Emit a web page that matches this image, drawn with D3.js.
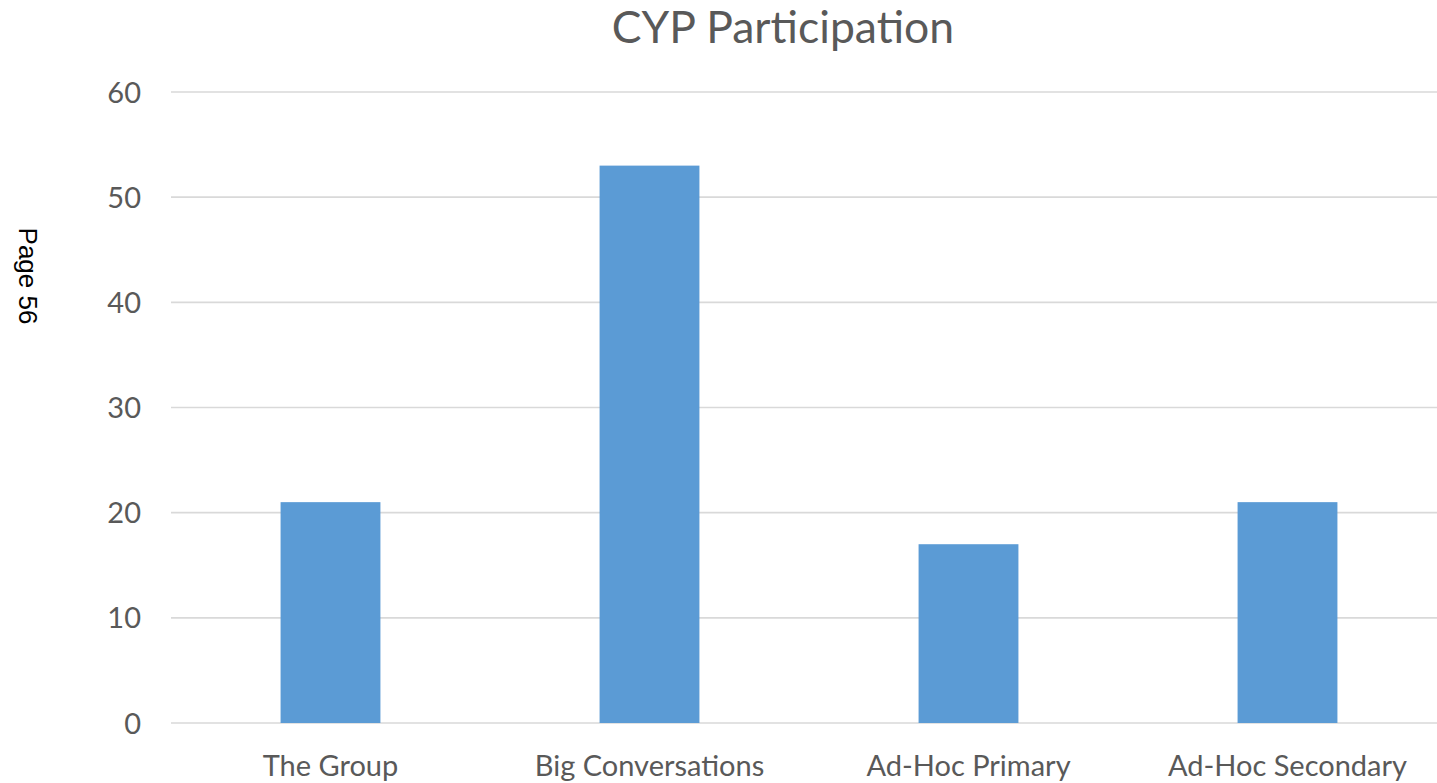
<!DOCTYPE html>
<html>
<head>
<meta charset="utf-8">
<script src="https://cdn.jsdelivr.net/npm/d3@7"></script>
<style>
  body { margin: 0; background: #fff; }
  text { font-family: Lato, "Open Sans", sans-serif; fill: #595959; }
</style>
</head>
<body>
<div id="chart"></div>
<script>
// chart data
const categories = ["The Group", "Big Conversations", "Ad-Hoc Primary", "Ad-Hoc Secondary"]
const values = [21, 53, 17, 21]
const yTicks = [0, 10, 20, 30, 40, 50, 60]

const svgWidth = 1437
const svgHeight = 783

// plot area runs a bit past the right edge, like the source crop
let margin = { top: 92, left: 171 }
let plotRight = 1447
let plotBottom = 723

let svg = d3.select("#chart")
  .append("svg")
  .attr("width", svgWidth)
  .attr("height", svgHeight)

let x = d3.scaleBand()
  .domain(categories)
  .range([margin.left, plotRight])
  .paddingInner(0.687)
  .paddingOuter(0.3435)

let y = d3.scaleLinear()
  .domain([0, 60])
  .range([plotBottom, margin.top])

// gridlines
svg.append("g")
  .selectAll("line")
  .data(yTicks)
  .enter()
  .append("line")
  .attr("x1", margin.left)
  .attr("x2", plotRight)
  .attr("y1", d => y(d))
  .attr("y2", d => y(d))
  .attr("stroke", "#d9d9d9")
  .attr("stroke-width", 1.6)

// bars
svg.append("g")
  .selectAll("rect")
  .data(values)
  .enter()
  .append("rect")
  .attr("x", (d, i) => x(categories[i]))
  .attr("width", x.bandwidth())
  .attr("y", d => y(d))
  .attr("height", d => y(0) - y(d))
  .attr("fill", "#5b9bd5")

// y axis labels
let leftAxis = d3.axisLeft(y).tickValues(yTicks).tickSize(0).tickPadding(0)
let yAxis = svg.append("g")
  .attr("transform", `translate(141, 0)`)
  .call(leftAxis)
yAxis.select(".domain").remove()
yAxis.selectAll("text")
  .style("font-size", "29px")
  .attr("dy", "0.35em")
  .attr("fill", "#595959")

// x axis labels
let bottomAxis = d3.axisBottom(x).tickSize(0).tickPadding(0)
let xAxis = svg.append("g")
  .attr("transform", `translate(0, 755)`)
  .call(bottomAxis)
xAxis.select(".domain").remove()
xAxis.selectAll("text")
  .style("font-size", "29px")
  .attr("dy", "0.71em")
  .attr("y", 0)
  .attr("fill", "#595959")

// title
svg.append("text")
  .attr("x", 783)
  .attr("y", 43)
  .attr("text-anchor", "middle")
  .style("font-size", "44.5px")
  .text("CYP Participation")

// page marker on the left edge
svg.append("text")
  .attr("transform", "translate(19, 276) rotate(90)")
  .attr("text-anchor", "middle")
  .style("font-family", "'Liberation Sans', Arial, sans-serif")
  .style("font-size", "26px")
  .style("fill", "#000")
  .text("Page 56")
</script>
</body>
</html>
